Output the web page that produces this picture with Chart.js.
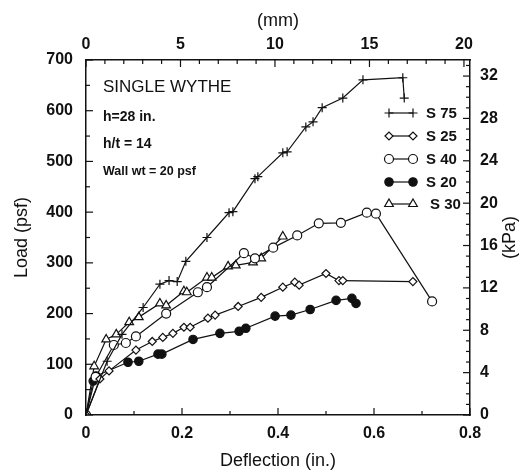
<!DOCTYPE html>
<html>
<head>
<meta charset="utf-8">
<script src="https://cdn.jsdelivr.net/npm/chart.js@4.4.0/dist/chart.umd.min.js"></script>
<style>
  body { margin: 0; background: #fff; }
  #caja { width: 530px; height: 475px; }
</style>
</head>
<body>
<div id="caja"><canvas id="grafico" width="530" height="475"></canvas></div>
<script>
// Datos: deflexion (in.) vs carga (psf)
const s75X = [0, 0.044, 0.075, 0.119, 0.154, 0.173, 0.19, 0.208, 0.252, 0.298, 0.306, 0.352, 0.358, 0.41, 0.419, 0.458, 0.473, 0.492, 0.535, 0.577, 0.66, 0.663];
const s75Y = [0, 106, 159, 212, 258, 265, 263, 303, 350, 399, 401, 466, 470, 517, 519, 568, 578, 606, 625, 661, 665, 625];

const s25X = [0, 0.029, 0.048, 0.104, 0.138, 0.16, 0.181, 0.204, 0.217, 0.254, 0.269, 0.317, 0.365, 0.41, 0.435, 0.444, 0.5, 0.527, 0.535, 0.681];
const s25Y = [0, 71, 87, 128, 145, 153, 161, 173, 173, 191, 197, 214, 232, 252, 262, 256, 279, 265, 265, 263];

const s40X = [0, 0.02, 0.058, 0.083, 0.104, 0.167, 0.233, 0.252, 0.329, 0.352, 0.39, 0.44, 0.485, 0.531, 0.585, 0.604, 0.721];
const s40Y = [0, 75, 138, 142, 155, 200, 242, 252, 319, 309, 330, 354, 378, 379, 399, 397, 224];

const s20X = [0, 0.015, 0.021, 0.0875, 0.11, 0.15, 0.158, 0.223, 0.279, 0.319, 0.333, 0.394, 0.427, 0.467, 0.521, 0.554, 0.5625];
const s20Y = [0, 67, 77, 104, 106, 120, 120, 149, 161, 165, 171, 195, 197, 208, 226, 230, 220];

const s30X = [0, 0.017, 0.042, 0.063, 0.09, 0.11, 0.154, 0.167, 0.204, 0.21, 0.252, 0.262, 0.296, 0.312, 0.348, 0.365, 0.41];
const s30Y = [0, 96, 149, 159, 183, 193, 220, 216, 244, 242, 271, 271, 293, 295, 301, 309, 352];

const etiquetas = ['S 75', 'S 25', 'S 40', 'S 20', 'S 30'];
const notas = ['SINGLE WYTHE', 'h=28 in.', 'h/t = 14', 'Wall wt = 20 psf'];

const IN_A_MM = 25.4;
const PSF_A_KPA = 1 / 20.8854;

function puntos(xs, ys) {
    return xs.map((v, i) => ({ x: v, y: ys[i] }));
}

const fuente = "'Liberation Sans', Arial, sans-serif";

function serie(label, xs, ys, estilo, radio, relleno) {
    return {
        label: label,
        data: puntos(xs, ys),
        showLine: true,
        borderColor: '#111',
        borderWidth: 1.2,
        pointStyle: estilo,
        pointRadius: radio,
        pointBorderWidth: 1.2,
        pointBorderColor: '#111',
        pointBackgroundColor: relleno,
        backgroundColor: relleno,
        tension: 0
    };
}

const esMayor = (v, paso) => Math.abs(v / paso - Math.round(v / paso)) < 1e-6;
const pasosMayores = { x: 0.2, x2: 5, y: 100, y2: 4 };

// ticks hacia adentro, mayores y menores
const ticksAdentro = {
    id: 'ticksAdentro',
    afterDraw(chart) {
        const ctx = chart.ctx;
        const a = chart.chartArea;
        ctx.save();
        ctx.strokeStyle = '#111';
        ctx.lineWidth = 1.2;
        for (const id of Object.keys(pasosMayores)) {
            const sc = chart.scales[id];
            for (const t of sc.ticks) {
                const largo = esMayor(t.value, pasosMayores[id]) ? 7 : 4;
                const p = sc.getPixelForValue(t.value);
                ctx.beginPath();
                if (id === 'x') { ctx.moveTo(p, a.bottom); ctx.lineTo(p, a.bottom - largo); }
                if (id === 'x2') { ctx.moveTo(p, a.top); ctx.lineTo(p, a.top + largo); }
                if (id === 'y') { ctx.moveTo(a.left, p); ctx.lineTo(a.left + largo, p); }
                if (id === 'y2') { ctx.moveTo(a.right, p); ctx.lineTo(a.right - largo, p); }
                ctx.stroke();
            }
        }
        ctx.restore();
    }
};

// leyenda y textos dentro del grafico
const textos = {
    id: 'textos',
    afterDraw(chart) {
        const ctx = chart.ctx;
        ctx.save();
        ctx.fillStyle = '#111';
        ctx.textBaseline = 'middle';
        ctx.textAlign = 'left';
        ctx.font = '17px ' + fuente;
        ctx.fillText(notas[0], 103, 87);
        ctx.font = 'bold 14px ' + fuente;
        ctx.fillText(notas[1], 103, 117);
        ctx.fillText(notas[2], 103, 144);
        ctx.font = 'bold 12.5px ' + fuente;
        ctx.fillText(notas[3], 103, 172);

        const filas = [113, 136, 159, 182, 204];
        chart.data.datasets.forEach((ds, i) => {
            const y = filas[i];
            ctx.strokeStyle = '#111';
            ctx.lineWidth = 1.2;
            ctx.beginPath();
            ctx.moveTo(389, y);
            ctx.lineTo(413, y);
            ctx.stroke();
            ctx.fillStyle = ds.pointBackgroundColor;
            const opt = { pointStyle: ds.pointStyle, radius: ds.pointRadius, rotation: 0, borderWidth: 1.2 };
            Chart.helpers.drawPoint(ctx, opt, 389, y);
            Chart.helpers.drawPoint(ctx, opt, 413, y);
            ctx.fillStyle = '#111';
            ctx.font = 'bold 15px ' + fuente;
            ctx.fillText(ds.label, i === 4 ? 430 : 426, y + 1);
        });

        // titulo del eje derecho
        ctx.translate(510, (chart.chartArea.top + chart.chartArea.bottom) / 2);
        ctx.rotate(-Math.PI / 2);
        ctx.textAlign = 'center';
        ctx.font = '18px ' + fuente;
        ctx.fillText('(kPa)', 0, 0);
        ctx.restore();
    }
};

const borde = { display: true, color: '#111', width: 1.5 };
const sinGrid = { display: false, drawTicks: false };
const fTicks = { family: fuente, size: 16, weight: 'bold' };

new Chart(document.getElementById('grafico'), {
    type: 'scatter',
    data: {
        datasets: [
            serie(etiquetas[0], s75X, s75Y, 'cross', 4.5, '#fff'),
            serie(etiquetas[1], s25X, s25Y, 'rectRot', 4, '#fff'),
            serie(etiquetas[2], s40X, s40Y, 'circle', 4.5, '#fff'),
            serie(etiquetas[3], s20X, s20Y, 'circle', 4.2, '#111'),
            serie(etiquetas[4], s30X, s30Y, 'triangle', 5, '#fff')
        ]
    },
    plugins: [ticksAdentro, textos],
    options: {
        responsive: false,
        animation: false,
        devicePixelRatio: 1,
        layout: { padding: 0 },
        plugins: { legend: { display: false }, tooltip: { enabled: false } },
        scales: {
            x: {
                type: 'linear', position: 'bottom', min: 0, max: 0.8,
                grid: sinGrid, border: borde,
                afterFit: s => { s.height = 60; },
                ticks: {
                    stepSize: 0.1, autoSkip: false, includeBounds: false, maxRotation: 0,
                    padding: 9, color: '#111', font: fTicks,
                    callback: v => esMayor(v, 0.2) ? String(Number(v.toFixed(1))) : ''
                },
                title: { display: true, text: 'Deflection (in.)', color: '#111',
                    font: { family: fuente, size: 18 }, padding: { top: 0, bottom: 3 } }
            },
            x2: {
                type: 'linear', position: 'top', min: 0, max: 0.8 * IN_A_MM,
                grid: sinGrid, border: borde,
                afterFit: s => { s.height = 60; },
                ticks: {
                    stepSize: 1, autoSkip: false, includeBounds: false, maxRotation: 0,
                    padding: 6, color: '#111', font: fTicks,
                    callback: v => esMayor(v, 5) ? String(v) : ''
                },
                title: { display: true, text: '(mm)', color: '#111',
                    font: { family: fuente, size: 18 }, padding: { top: 10, bottom: 0 } }
            },
            y: {
                type: 'linear', position: 'left', min: 0, max: 700,
                grid: sinGrid, border: borde,
                afterFit: s => { s.width = 86; },
                ticks: {
                    stepSize: 50, autoSkip: false, includeBounds: false,
                    padding: 13, color: '#111', font: fTicks,
                    callback: v => esMayor(v, 100) ? String(v) : ''
                },
                title: { display: true, text: 'Load (psf)', color: '#111',
                    font: { family: fuente, size: 18 }, padding: { top: 11, bottom: 0 } }
            },
            y2: {
                type: 'linear', position: 'right', min: 0, max: 700 * PSF_A_KPA,
                grid: sinGrid, border: borde,
                afterFit: s => { s.width = 60; },
                ticks: {
                    stepSize: 1, autoSkip: false, includeBounds: false,
                    padding: 10, color: '#111', font: fTicks,
                    callback: v => esMayor(v, 4) ? String(v) : ''
                }
            }
        }
    }
});
</script>
</body>
</html>
